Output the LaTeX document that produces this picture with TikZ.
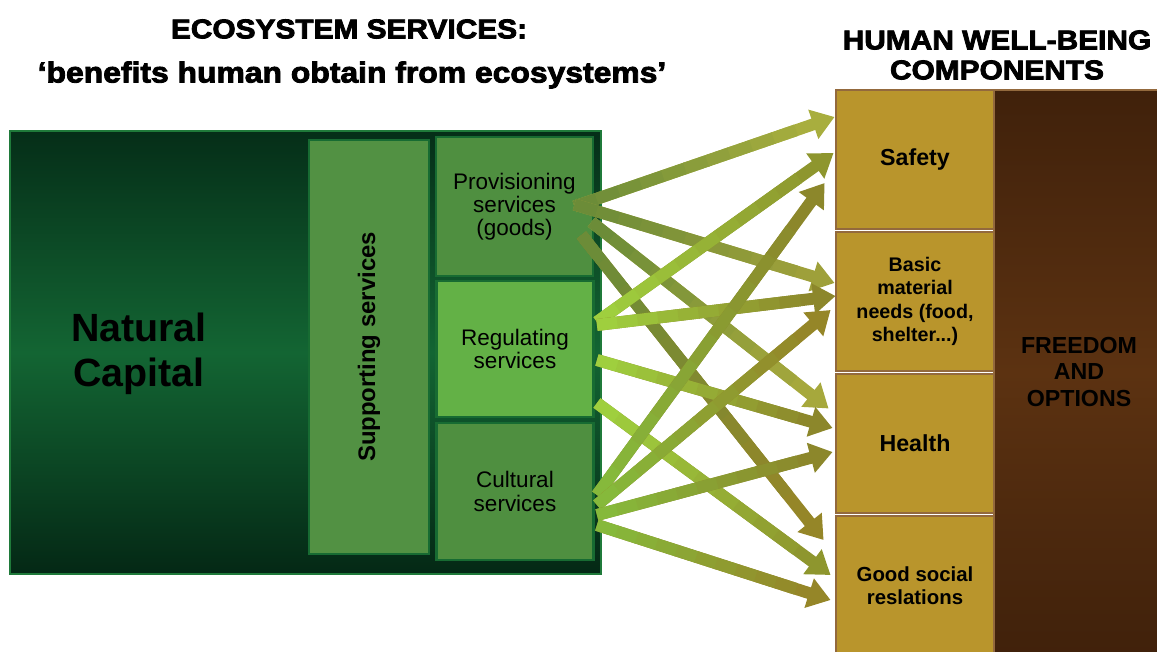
\documentclass[tikz,border=0pt]{standalone}
\usepackage{fontspec}
\setmainfont{Liberation Sans}
\newfontfamily\heavyfont[BoldFeatures={FakeBold=3,FakeStretch=1.1}]{Liberation Sans}
\usetikzlibrary{arrows.meta,calc}

\definecolor{natline}{HTML}{1F7A3A}
\definecolor{nattop}{HTML}{052E18}
\definecolor{natmid}{HTML}{136533}
\definecolor{natbot}{HTML}{042815}
\definecolor{svcline}{HTML}{176B32}
\definecolor{suppfill}{HTML}{529143}
\definecolor{provfill}{HTML}{4F8F40}
\definecolor{regfill}{HTML}{63B146}
\definecolor{compfill}{HTML}{B9952C}
\definecolor{compline}{HTML}{93693D}
\definecolor{freetop}{HTML}{40210B}
\definecolor{freemid}{HTML}{5C3211}
% flow colours: tail (s) and tip (t)
\definecolor{provs}{HTML}{6C8C38}
\definecolor{regs}{HTML}{9FCF3E}
\definecolor{cults}{HTML}{86B93B}
\definecolor{tipA}{HTML}{A8AE3E}
\definecolor{tipB}{HTML}{9EA03A}
\definecolor{tipC}{HTML}{A6A83C}
\definecolor{tipD}{HTML}{958628}
\definecolor{tipE}{HTML}{8E962E}
\definecolor{tipF}{HTML}{8C872B}

\begin{document}
\begin{tikzpicture}[x=0.025cm,y=-0.025cm]
    \tikzstyle{title}=[font=\heavyfont\bfseries\fontsize{19.3}{21}\selectfont,inner sep=0pt]
    \tikzstyle{service}=[rectangle,draw=svcline,line width=2pt,minimum width=3.925cm,align=center,font=\fontsize{16}{16.5}\selectfont]
    \tikzstyle{component}=[rectangle,draw=compline,fill=compfill,line width=2pt,minimum width=3.95cm,minimum height=3.475cm,align=center,font=\bfseries\fontsize{14}{16.5}\selectfont]
    \tikzstyle{flow}=[line width=8.5pt,-{Triangle[width=21pt,length=16pt]}]

    \useasboundingbox (0,0) rectangle (1157,651);

    % titles
    \node[title] (es) at (349,29) {ECOSYSTEM SERVICES:};
    \node[title,font=\heavyfont\bfseries\fontsize{20.6}{22}\selectfont] (benefits) at (352,75) {‘benefits human obtain from ecosystems’};
    \node[title] (hw) at (997,40) {HUMAN WELL-BEING};
    \node[title] (hwc) at (997,70) {COMPONENTS};

    % natural capital
    \draw[natline,line width=2pt,top color=nattop,bottom color=natbot,middle color=natmid] (10,131) rectangle (601,574);
    \node[align=center,font=\bfseries\fontsize{28}{32}\selectfont] (natcap) at (139,354) {Natural\\Capital};

    \node[service,fill=suppfill,rotate=90,minimum width=10.35cm,minimum height=3cm,font=\bfseries\fontsize{17}{20}\selectfont] (supp) at (369,347) {Supporting services};
    \node[service,fill=provfill,minimum height=3.475cm] (prov) at (514.5,206.5) {Provisioning\\services\\(goods)};
    \node[service,fill=regfill,minimum height=3.4cm] (reg) at (515,349) {Regulating\\services};
    \node[service,fill=provfill,minimum height=3.425cm] (cult) at (515,491.5) {Cultural\\services};

    % well-being components
    \node[rectangle,draw=compline,line width=2pt,top color=freetop,bottom color=freetop,middle color=freemid,minimum width=4.15cm,minimum height=14.125cm] (freedom) at (1077,372.5) {};
    \node[font=\bfseries\fontsize{16.5}{18.5}\selectfont,align=center] (fo) at (1079,372) {FREEDOM\\AND\\OPTIONS};

    \node[component,font=\bfseries\fontsize{16.5}{18}\selectfont] (safety) at (915,159.5) {Safety};
    \node[component] (basic) at (915,301.5) {Basic\\material\\needs (food,\\shelter...)};
    \node[component,font=\bfseries\fontsize{16.5}{18}\selectfont] (health) at (915,443.5) {Health};
    \node[component,font=\bfseries\fontsize{14.5}{16.5}\selectfont] (social) at (915,585.5) {Good social\\reslations};

    % flows, shaded from tail colour to tip colour
    \foreach \src/\sx/\sy/\dst/\ex/\ey/\cs/\ct in {prov/-20/0/safety/0/-42.5/provs/tipA, prov/-20/-2/basic/0/-18.5/provs/tipB,
        prov/-3/15.5/health/-6/-35/provs/tipC, prov/-13/28.5/social/-11/-45.5/provs/tipD,
        reg/2/-27/safety/-1/-6.5/regs/tipE, reg/2/-24/basic/1/-5.5/regs/tipF,
        reg/2/11/health/-2/-15.5/regs/tipF, reg/2/54/social/-4/-10.5/regs/tipE,
        cult/2/3.5/safety/-10/23.5/cults/tipF, cult/2/13.5/basic/-4/8.5/cults/tipD,
        cult/2/23.5/health/-2/8.5/cults/tipF, cult/2/33.5/social/-4/14.5/cults/tipD}{
        \coordinate (from) at ($(\src.east)+(\sx,\sy)$);
        \coordinate (to) at ($(\dst.west)+(\ex,\ey)$);
        \draw[flow,\ct] (from) -- (to);
        \foreach \i in {0,...,9}
            \draw[line width=8.5pt,\ct!\i0!\cs] ($(from)!{\i*0.085}!(to)$) -- ($(from)!{\i*0.085+0.087}!(to)$);
    }
\end{tikzpicture}
\end{document}
